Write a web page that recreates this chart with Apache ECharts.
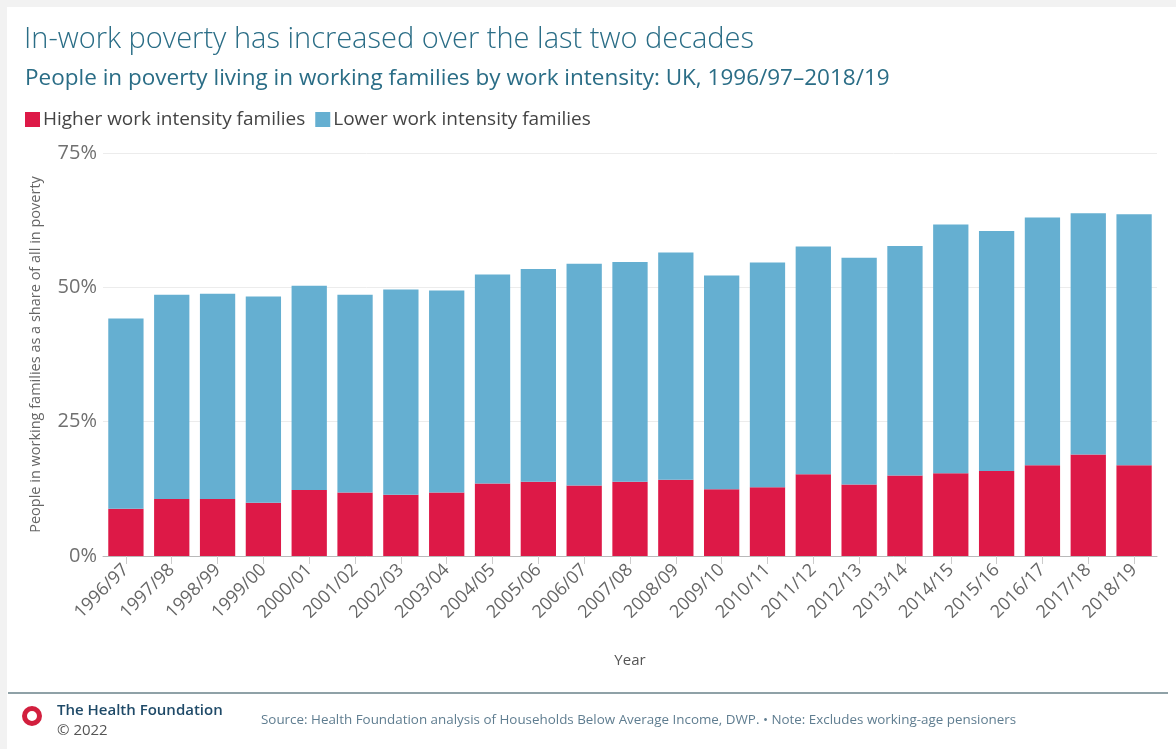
<!DOCTYPE html>
<html>
<head>
<meta charset="utf-8">
<script src="https://cdn.jsdelivr.net/npm/echarts@6/dist/echarts.min.js"></script>
<style>
  html, body { margin: 0; padding: 0; background: #ffffff; }
  #chart { width: 1176px; height: 749px; }
</style>
</head>
<body>
<div id="chart"></div>
<script>
// Financial years on the category axis
const years = ['1996/97', '1997/98', '1998/99', '1999/00', '2000/01', '2001/02', '2002/03', '2003/04',
  '2004/05', '2005/06', '2006/07', '2007/08', '2008/09', '2009/10', '2010/11', '2011/12', '2012/13',
  '2013/14', '2014/15', '2015/16', '2016/17', '2017/18', '2018/19'];

// Share of all people in poverty (%), people in higher work intensity families
const higherIntensity = [8.8, 10.6, 10.6, 9.9, 12.3, 11.8, 11.4, 11.8, 13.5, 13.8, 13.1, 13.8, 14.2,
  12.4, 12.8, 15.2, 13.3, 15.0, 15.4, 15.8, 16.9, 18.9, 16.9];

// Share of all people in poverty (%), people in lower work intensity families
const lowerIntensity = [35.4, 38.0, 38.2, 38.4, 38.0, 36.8, 38.2, 37.6, 38.9, 39.6, 41.3, 40.9, 42.3,
  39.8, 41.8, 42.4, 42.2, 42.7, 46.3, 44.7, 46.1, 44.9, 46.7];

// Value axis ticks
const yTicks = [0, 25, 50, 75];

const RED = '#dd1947';
const BLUE = '#65afd1';
const TEAL = '#2a6d86';
const FONT = '"Open Sans", "Liberation Sans", sans-serif';

const chart = echarts.init(document.getElementById('chart'), null, { renderer: 'canvas' });

chart.setOption({
  backgroundColor: '#ffffff',
  animation: false,
  textStyle: { fontFamily: FONT },
  title: [
    {
      text: 'In-work poverty has increased over the last two decades',
      left: 19, top: 20,
      textStyle: { fontFamily: FONT, fontSize: 29, fontWeight: 300, color: TEAL }
    },
    {
      text: 'People in poverty living in working families by work intensity: UK, 1996/97\u20132018/19',
      left: 20, top: 62,
      textStyle: { fontFamily: FONT, fontSize: 22.5, fontWeight: 400, color: TEAL }
    }
  ],
  legend: {
    left: 20, top: 105,
    itemWidth: 15, itemHeight: 15, itemGap: 10,
    icon: 'rect',
    textStyle: { fontFamily: FONT, fontSize: 19, color: '#444', padding: [0, 0, 0, -2] },
    data: ['Higher work intensity families', 'Lower work intensity families']
  },
  grid: { left: 103, right: 19, top: 153, bottom: 193, containLabel: false },
  xAxis: {
    type: 'category',
    data: years,
    name: 'Year',
    nameLocation: 'middle',
    nameGap: 97,
    nameTextStyle: { fontFamily: FONT, fontSize: 15, color: '#555' },
    axisLine: { lineStyle: { color: '#b9b9b9', width: 1 } },
    axisTick: { show: true, alignWithLabel: true, length: 8, lineStyle: { color: '#cccccc' } },
    axisLabel: { rotate: 45, fontSize: 18, color: '#666', margin: 11, padding: [12, 0, 0, 0], interval: 0 }
  },
  yAxis: {
    type: 'value',
    min: yTicks[0], max: yTicks[yTicks.length - 1], interval: yTicks[1] - yTicks[0],
    name: 'People in working families as a share of all in poverty',
    nameLocation: 'middle',
    nameGap: 60,
    nameTextStyle: { fontFamily: FONT, fontSize: 14.5, color: '#666' },
    axisLine: { show: false },
    axisTick: { show: false },
    axisLabel: { formatter: '{value}%', fontSize: 20, color: '#707070', margin: 6 },
    splitLine: { lineStyle: { color: '#ececec', width: 1 } }
  },
  series: [
    {
      name: 'Higher work intensity families',
      type: 'bar',
      stack: 'total',
      data: higherIntensity,
      barCategoryGap: '23%',
      itemStyle: { color: RED }
    },
    {
      name: 'Lower work intensity families',
      type: 'bar',
      stack: 'total',
      data: lowerIntensity,
      barCategoryGap: '23%',
      itemStyle: { color: BLUE }
    }
  ],
  graphic: [
    // page frame shading along the top and left edges
    { type: 'rect', shape: { x: 0, y: 0, width: 1176, height: 7 }, style: { fill: '#f2f2f2' }, silent: true },
    { type: 'rect', shape: { x: 0, y: 0, width: 7, height: 749 }, style: { fill: '#f2f2f2' }, silent: true },
    // footer rule
    { type: 'line', shape: { x1: 8, y1: 693, x2: 1168, y2: 693 }, style: { stroke: '#8fa1a7', lineWidth: 2 }, silent: true },
    // logo ring
    { type: 'circle', shape: { cx: 32, cy: 716, r: 7.5 }, style: { fill: 'none', stroke: '#d21f3e', lineWidth: 5 }, silent: true },
    { type: 'text', left: 57, top: 703, style: { text: 'The Health Foundation', fill: '#1f4a68', font: '600 15px ' + FONT }, silent: true },
    { type: 'text', left: 57, top: 723, style: { text: '\u00a9 2022', fill: '#555', font: '400 15px ' + FONT }, silent: true },
    {
      type: 'text', left: 261, top: 714,
      style: {
        text: 'Source: Health Foundation analysis of Households Below Average Income, DWP. \u2022 Note: Excludes working-age pensioners',
        fill: '#5f7d90', font: '400 13.4px ' + FONT
      },
      silent: true
    }
  ]
});
</script>
</body>
</html>
